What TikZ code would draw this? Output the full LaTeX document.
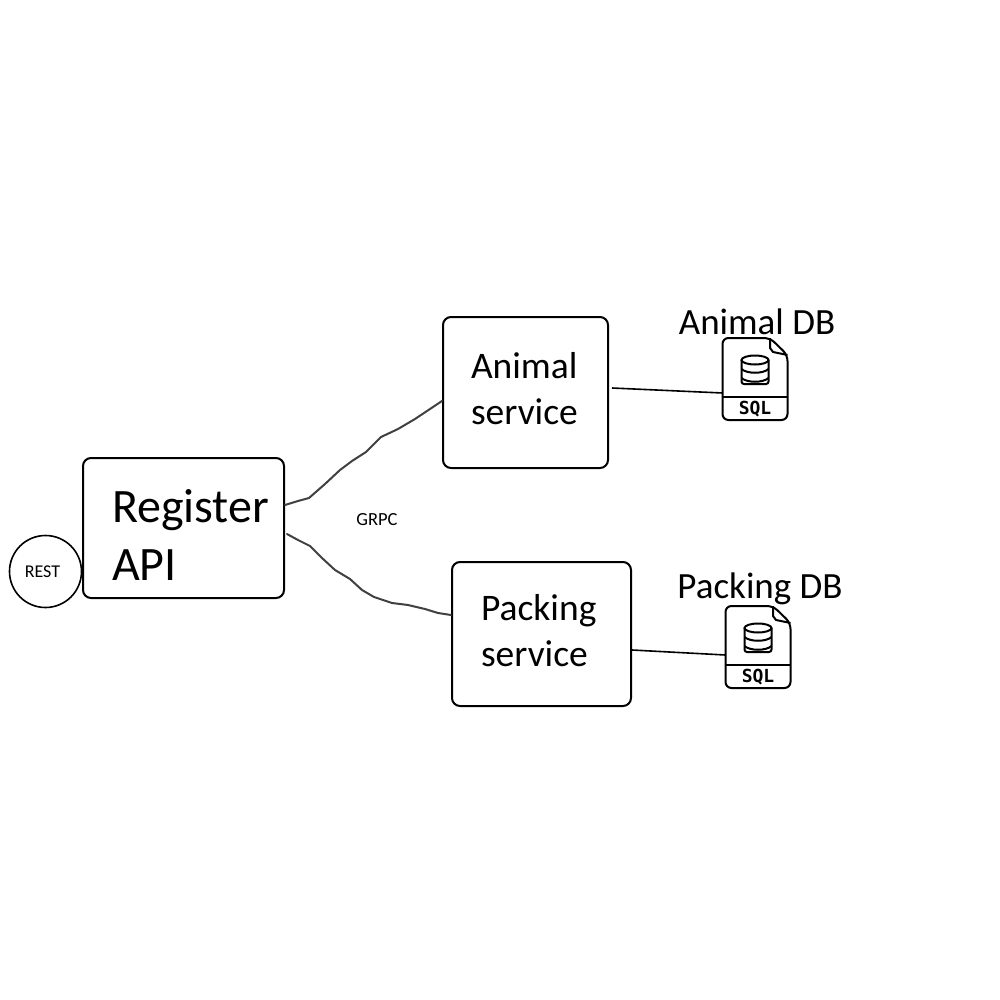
\documentclass[tikz,border=0pt]{standalone}
\usepackage{fontspec}
\setmainfont{Carlito}
\newfontfamily\sqlfont{DejaVu Sans Mono}[BoldFont={DejaVu Sans Mono Bold}]
\usetikzlibrary{positioning}
\tikzset{
    svcbox/.style={draw, line width=2pt, rounded corners=8pt, align=left, inner ysep=0pt, font=\fontsize{37.5}{46}\selectfont},
    restcircle/.style={draw, circle, line width=1.6pt, minimum size=72pt, inner sep=0pt, font=\fontsize{18}{21}\selectfont},
    handline/.style={line width=2pt, black!75, line join=round, line cap=round},
    dbline/.style={line width=1.6pt},
    dblabel/.style={inner sep=0pt, font=\fontsize{37}{44}\selectfont},
    smalllabel/.style={inner sep=0pt, font=\fontsize{18.5}{22}\selectfont},
    sqlfile/.pic={
        \draw[line width=2pt, rounded corners=6pt] (-32.5,-41) -- (15,-41) -- (32.5,-24) -- (32.5,41) -- (-32.5,41) -- cycle;
        \draw[line width=2pt, line join=round] (15,-41) -- (15,-31) -- ++(3,4) -- (32.5,-24);
        \draw[line width=2pt] (-32.5,18) -- (32.5,18);
        \draw[line width=2pt, rounded corners=2.5pt] (-13.5,-19) -- (-13.5,5) -- (13.5,5) -- (13.5,-19);
        \draw[line width=2pt] (0,-19) ellipse (13.5 and 4.5);
        \draw[line width=2pt] (-13.5,-10) .. controls (-8,-5) and (8,-5) .. (13.5,-10);
        \draw[line width=2pt] (-13.5,-1) .. controls (-8,4) and (8,4) .. (13.5,-1);
        \node[inner sep=0pt, font=\sqlfont\bfseries\fontsize{18}{18}\selectfont] (-text) at (0,30) {SQL};
        \coordinate (-west) at (-32.5,0);
    },
}
\begin{document}
\begin{tikzpicture}[x=1pt, y=-1pt]
    \useasboundingbox (0,0) rectangle (1000,1000);
    % services
    \node[svcbox, font=\fontsize{48}{58}\selectfont, minimum height=140pt, text width=143pt, inner xsep=29pt] (registerapi) at (183.5,528) {\rule{0pt}{46pt}Register\\API};
    \node[svcbox, minimum height=151pt, text width=109pt, inner xsep=28pt] (animalsvc) at (525.5,392.5) {Animal\\service\rule[-8pt]{0pt}{8pt}};
    \node[svcbox, minimum height=144pt, text width=121pt, inner xsep=29pt] (packingsvc) at (541.5,634) {Packing\\service\rule[-8pt]{0pt}{8pt}};
    \node[restcircle] (rest) at (45.5,571.5) {REST\kern6pt};
    \node[smalllabel] (grpc) at (377,520) {GRPC};
    % databases
    \pic (animaldb) at (755,379) {sqlfile};
    \pic (packingdb) at (758,647) {sqlfile};
    \node[dblabel] (animallabel) at (757,322) {Animal DB};
    \node[dblabel] (packinglabel) at (760,589) {Packing DB};
    % hand drawn links
    \coordinate (regtop) at (registerapi.east |- 0,505);
    \coordinate (regbot) at (287,534);
    \coordinate (animalin) at (animalsvc.west |- 0,401);
    \coordinate (packingin) at (packingsvc.west |- 0,615);
    \coordinate (animalout) at (612,388);
    \coordinate (packingout) at (632,650);
    \draw[handline] (regtop) -- (298,501) -- (309,498) -- (325,484) -- (340,470) -- (352,461) -- (366,452) -- (381,437) -- (398,429) -- (415,419) -- (430,409) -- (animalin);
    \draw[handline] (regbot) -- (298,540) -- (310,546) -- (322,558) -- (335,570) -- (350,579) -- (362,590) -- (374,597) -- (392,603) -- (408,605) -- (425,609) -- (438,613) -- (packingin);
    \draw[dbline] (animalout) -- ([yshift=-14pt]animaldb-west);
    \draw[dbline] (packingout) -- ([yshift=-8pt]packingdb-west);
\end{tikzpicture}
\end{document}
